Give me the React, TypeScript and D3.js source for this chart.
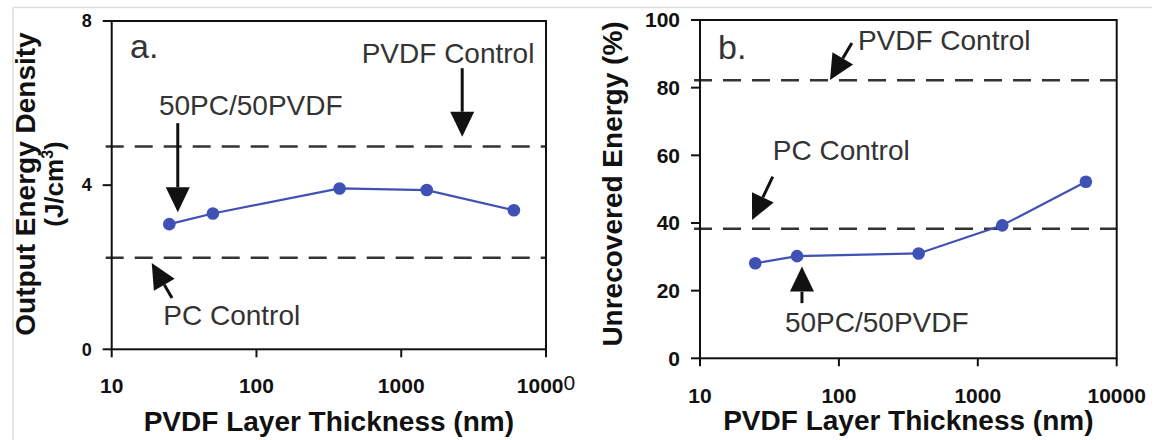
import React from 'react';
import * as d3 from 'd3';

// ---------- data ----------
const thickness = [25, 50, 375, 1500, 6000];
const energyDensity = [3.05, 3.31, 3.92, 3.88, 3.39];
const unrecoveredEnergy = [28.1, 30.2, 31.0, 39.3, 52.2];
const pvdfControlA = 4.94;
const pcControlA = 2.23;
const pvdfControlB = 82.2;
const pcControlB = 38.3;
const xTicks = [10, 100, 1000, 10000];
const yTicksA = [0, 4, 8];
const yTicksB = [0, 20, 40, 60, 80, 100];

const FONT = "'Liberation Sans', Arial, Helvetica, sans-serif";
const BLUE = '#3f51b5';
const DARK = '#333333';

type Ann = { text: string; x: number; y: number };
type Arrow = { x1: number; y1: number; x2: number; y2: number };

function arrowPaths(x1: number, y1: number, x2: number, y2: number, L = 25, W = 12) {
  const dx = x2 - x1, dy = y2 - y1;
  const len = Math.hypot(dx, dy);
  const ux = dx / len, uy = dy / len;
  const bx = x2 - ux * L, by = y2 - uy * L;
  const nx = -uy, ny = ux;
  return {
    shaft: `M${x1},${y1}L${bx},${by}`,
    head: `M${x2},${y2}L${bx + nx * W},${by + ny * W}L${bx - nx * W},${by - ny * W}Z`,
  };
}

function Panel(props: {
  left: number; right: number; top: number; bottom: number;
  yDomain: [number, number]; yTicks: number[]; yTickSize: number;
  values: number[]; pvdf: number; pc: number;
  letter: Ann; labels: Ann[]; arrows: Arrow[];
  xLabelY: number; titleY: number; lastTickRaised: boolean;
}) {
  const x = d3.scaleLog().domain([10, 10000]).range([props.left, props.right]);
  const y = d3.scaleLinear().domain(props.yDomain).range([props.bottom, props.top]);
  const line = d3.line<number>().x((_, i) => x(thickness[i])).y((d) => y(d));
  const dashStart = props.left - 6;
  return (
    <g>
      {/* dashed control lines */}
      {[props.pvdf, props.pc].map((v, i) => (
        <line key={'d' + i} x1={dashStart} x2={props.right} y1={y(v)} y2={y(v)}
          stroke={DARK} strokeWidth={2.6} strokeDasharray="18,11" />
      ))}
      {/* frame */}
      <rect x={props.left} y={props.top} width={props.right - props.left} height={props.bottom - props.top}
        fill="none" stroke="#111" strokeWidth={2} />
      {/* y ticks */}
      {props.yTicks.map((t) => (
        <g key={'y' + t}>
          <line x1={props.left - 9} x2={props.left} y1={y(t)} y2={y(t)} stroke="#111" strokeWidth={2} />
          <text x={props.left - 20} y={y(t)} dy="0.35em" textAnchor="end" fontFamily={FONT}
            fontWeight="bold" fontSize={props.yTickSize} fill="#111">{t}</text>
        </g>
      ))}
      {/* x ticks */}
      {xTicks.map((t, i) => (
        <g key={'x' + t}>
          <line x1={x(t)} x2={x(t)} y1={props.bottom} y2={props.bottom + 8} stroke="#111" strokeWidth={2} />
          <text x={x(t)} y={props.xLabelY} textAnchor="middle" fontFamily={FONT} fontWeight="bold"
            fontSize={21} fill="#111">
            {props.lastTickRaised && i === xTicks.length - 1 ? (
              <>{String(t).slice(0, -1)}<tspan dy={-3} fontWeight="normal">{String(t).slice(-1)}</tspan></>
            ) : t}
          </text>
        </g>
      ))}
      {/* x title */}
      <text x={(props.left + props.right) / 2} y={props.titleY} textAnchor="middle" fontFamily={FONT}
        fontWeight="bold" fontSize={28} fill="#111">PVDF Layer Thickness (nm)</text>
      {/* arrows */}
      {props.arrows.map((a, i) => {
        const p = arrowPaths(x(a.x1), y(a.y1), x(a.x2), y(a.y2));
        return (
          <g key={'a' + i}>
            <path d={p.shaft} stroke="#111" strokeWidth={3} fill="none" />
            <path d={p.head} fill="#111" />
          </g>
        );
      })}
      {/* annotation labels */}
      <text x={x(props.letter.x)} y={y(props.letter.y)} fontFamily={FONT} fontSize={34} fill={DARK}>{props.letter.text}</text>
      {props.labels.map((l, i) => (
        <text key={'l' + i} x={x(l.x)} y={y(l.y)} fontFamily={FONT} fontSize={28} fill={DARK}>{l.text}</text>
      ))}
      {/* data */}
      <path d={line(props.values) || ''} fill="none" stroke={BLUE} strokeWidth={2.2} />
      {props.values.map((v, i) => (
        <circle key={'c' + i} cx={x(thickness[i])} cy={y(v)} r={6.3} fill={BLUE} />
      ))}
    </g>
  );
}

export default function App() {
  return (
    <svg width={1156} height={440} style={{ position: 'absolute', left: 0, top: 0, background: '#fff' }}>
      <rect x={0} y={0} width={1156} height={440} fill="#fff" />
      <line x1={13} x2={1152} y1={7.5} y2={7.5} stroke="#ddd" strokeWidth={1.5} />
      <line x1={13} x2={13} y1={7.5} y2={440} stroke="#ddd" strokeWidth={1.5} />

      <Panel left={111.7} right={546} top={21} bottom={349.3} yDomain={[0, 8]} yTicks={yTicksA} yTickSize={18}
        values={energyDensity} pvdf={pvdfControlA} pc={pcControlA}
        letter={{ text: 'a.', x: 13.4, y: 7.1 }}
        labels={[
          { text: 'PVDF Control', x: 533, y: 6.97 },
          { text: '50PC/50PVDF', x: 21.2, y: 5.71 },
          { text: 'PC Control', x: 22.7, y: 0.59 },
        ]}
        arrows={[
          { x1: 28.6, y1: 5.51, x2: 28.6, y2: 3.34 },
          { x1: 2637, y1: 6.85, x2: 2637, y2: 5.18 },
          { x1: 26.1, y1: 1.25, x2: 18.9, y2: 2.1 },
        ]}
        xLabelY={393} titleY={431} lastTickRaised={true} />

      <Panel left={700} right={1116.7} top={20} bottom={358.3} yDomain={[0, 100]} yTicks={yTicksB} yTickSize={21}
        values={unrecoveredEnergy} pvdf={pvdfControlB} pc={pcControlB}
        letter={{ text: 'b.', x: 13.5, y: 88.5 }}
        labels={[
          { text: 'PVDF Control', x: 137, y: 91.1 },
          { text: 'PC Control', x: 33.4, y: 58.6 },
          { text: '50PC/50PVDF', x: 40.9, y: 7.9 },
        ]}
        arrows={[
          { x1: 124, y1: 93.2, x2: 86.3, y2: 82.3 },
          { x1: 33.4, y1: 53.7, x2: 23.7, y2: 40.9 },
          { x1: 54.2, y1: 16.3, x2: 54.2, y2: 27.1 },
        ]}
        xLabelY={403} titleY={430} lastTickRaised={false} />

      {/* y axis titles */}
      <text transform="translate(35,184) rotate(-90)" textAnchor="middle" fontFamily={FONT} fontWeight="bold"
        fontSize={28} fill="#111">Output Energy Density</text>
      <text transform="translate(63,184) rotate(-90)" textAnchor="middle" fontFamily={FONT} fontWeight="bold"
        fontSize={26} fill="#111">(J/cm<tspan fontSize={16} dy={-10}>3</tspan><tspan dy={10}>)</tspan></text>
      <text transform="translate(622,184) rotate(-90)" textAnchor="middle" fontFamily={FONT} fontWeight="bold"
        fontSize={28} fill="#111">Unrecovered Energy (%)</text>
    </svg>
  );
}
